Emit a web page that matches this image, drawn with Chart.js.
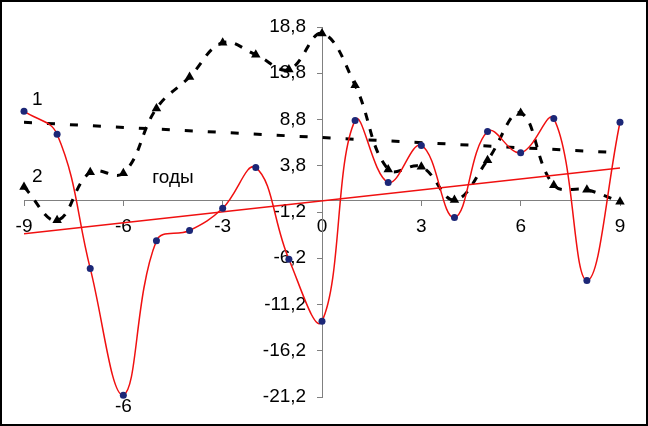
<!DOCTYPE html>
<html>
<head>
<meta charset="utf-8">
<script src="https://cdn.jsdelivr.net/npm/chart.js@4.4.0/dist/chart.umd.min.js"></script>
<style>
  html, body { margin: 0; padding: 0; background: #fff; }
</style>
</head>
<body>
<canvas id="chart" width="648" height="426"></canvas>
<script>
// значения
const xValues = [-9, -8, -7, -6, -5, -4, -3, -2, -1, 0, 1, 2, 3, 4, 5, 6, 7, 8, 9];
const series1 = [9.7, 7.2, -7.3, -21.0, -4.3, -3.2, -0.8, 3.6, -6.3, -13.0, 8.7, 2.0, 6.0, -1.8, 7.5, 5.2, 8.9, -8.6, 8.5];
const series2 = [1.5, -2.1, 3.1, 3.0, 10.0, 13.4, 17.1, 15.8, 14.2, 18.1, 12.5, 3.4, 3.7, 0.1, 4.4, 9.5, 1.7, 1.2, -0.1];
const trendX = [-9, 9];
const trend1 = [-3.55, 3.55];
const trend2 = [8.5, 5.2];
const xTicks = [-9, -6, -3, 0, 3, 6, 9];
const yTicks = [-21.2, -16.2, -11.2, -6.2, -1.2, 3.8, 8.8, 13.8, 18.8];
const notes = [
  { text: '1', x: -8.6, y: 10.9 },
  { text: '2', x: -8.6, y: 2.6 },
  { text: 'годы', x: -4.5, y: 2.5 },
  { text: '-6', x: -6, y: -22.3 }
];

const FONT = { family: '"Liberation Sans", Arial, sans-serif', size: 19 };
const AXIS = '#808080';

const pts = (xs, ys) => xs.map((x, i) => ({ x, y: ys[i] }));

const notesPlugin = {
  id: 'notes',
  afterDatasetsDraw(chart) {
    const { ctx, scales } = chart;
    ctx.save();
    ctx.font = `${FONT.size}px ${FONT.family}`;
    ctx.fillStyle = '#000';
    ctx.textAlign = 'center';
    ctx.textBaseline = 'middle';
    notes.forEach(n => {
      ctx.fillText(n.text, scales.x.getPixelForValue(n.x), scales.y.getPixelForValue(n.y));
    });
    ctx.restore();
  },
  afterDraw(chart) {
    // рамка вокруг всей картинки
    const ctx = chart.ctx;
    ctx.save();
    ctx.strokeStyle = '#000';
    ctx.lineWidth = 2;
    ctx.strokeRect(1, 1, chart.width - 2, chart.height - 2);
    ctx.restore();
  }
};

new Chart(document.getElementById('chart'), {
  type: 'line',
  data: {
    datasets: [
      {
        data: pts(xValues, series1),
        borderColor: '#f01010',
        borderWidth: 1.5,
        tension: 0.4,
        pointRadius: 3.5,
        pointBackgroundColor: '#1c2777',
        pointBorderColor: '#1c2777',
        pointBorderWidth: 0,
        clip: false
      },
      {
        data: pts(trendX, trend1),
        borderColor: '#f01010',
        borderWidth: 1.5,
        pointRadius: 0
      },
      {
        data: pts(xValues, series2),
        borderColor: '#000',
        borderWidth: 3,
        borderDash: [8, 9],
        tension: 0.4,
        pointStyle: 'triangle',
        pointRadius: 5.5,
        pointBorderWidth: 0,
        pointBackgroundColor: '#000',
        pointBorderColor: '#000',
        clip: false
      },
      {
        data: pts(trendX, trend2),
        borderColor: '#000',
        borderWidth: 3,
        borderDash: [8, 15],
        pointRadius: 0
      }
    ]
  },
  options: {
    responsive: false,
    animation: false,
    devicePixelRatio: 1,
    layout: { padding: { left: 24, right: 28, top: 27, bottom: 29 } },
    plugins: { legend: { display: false }, tooltip: { enabled: false } },
    scales: {
      x: {
        type: 'linear',
        min: -9,
        max: 9,
        position: { y: 0 },
        afterBuildTicks: s => { s.ticks = xTicks.map(v => ({ value: v })); },
        ticks: { font: FONT, color: '#000', padding: 9, maxRotation: 0, callback: v => String(v) },
        grid: { drawOnChartArea: false, drawTicks: true, tickLength: 5, color: AXIS },
        border: { color: AXIS, width: 1 }
      },
      y: {
        type: 'linear',
        min: -21.2,
        max: 18.8,
        position: { x: 0 },
        afterBuildTicks: s => { s.ticks = yTicks.map(v => ({ value: v })); },
        // подписи у оси в центре прижимаются к линии, отодвигаем пробелами
        ticks: { font: FONT, color: '#000', padding: 8, callback: v => v.toFixed(1).replace('.', ',') + '   ' },
        grid: { drawOnChartArea: false, drawTicks: true, tickLength: 5, color: AXIS },
        border: { color: AXIS, width: 1 }
      }
    }
  },
  plugins: [notesPlugin]
});
</script>
</body>
</html>
